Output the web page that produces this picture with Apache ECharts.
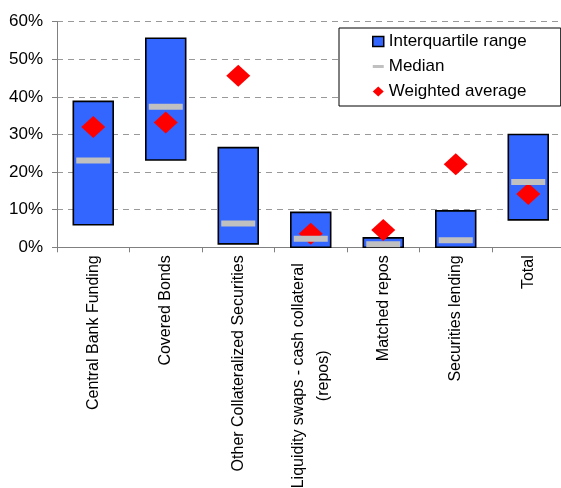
<!DOCTYPE html>
<html>
<head>
<meta charset="utf-8">
<script src="https://cdn.jsdelivr.net/npm/echarts@6/dist/echarts.min.js"></script>
<style>
  html, body { margin: 0; padding: 0; background: #fff; }
  #chart { width: 561px; height: 488px; }
</style>
</head>
<body>
<div id="chart"></div>
<script>
// Funding categories along the x axis
const categories = [
  'Central Bank Funding',
  'Covered Bonds',
  'Other Collateralized Securities',
  'Liquidity swaps - cash collateral\n(repos)',
  'Matched repos',
  'Securities lending',
  'Total'
];
// Lower and upper quartiles (%)
const lowerQuartile = [6.0, 23.2, 0.9, 0.0, 0.0, 0.0, 7.3];
const upperQuartile = [38.8, 55.6, 26.5, 9.3, 2.5, 9.7, 30.0];
// Median (%)
const medianValues = [23.1, 37.4, 6.3, 2.3, 0.8, 1.9, 17.4];
// Weighted average (%)
const weightedAverage = [32.0, 33.2, 45.6, 3.6, 4.6, 22.1, 14.2];
// Value axis ticks (%)
const yTicks = [0, 10, 20, 30, 40, 50, 60];

const FONT = "'Liberation Sans', Arial, sans-serif";
const BLUE = '#3366FF';
const GREY = '#C0C0C0';
const RED = '#FF0000';

const chart = echarts.init(document.getElementById('chart'), null, { renderer: 'canvas' });

const option = {
  animation: false,
  backgroundColor: '#fff',
  textStyle: { fontFamily: FONT },
  grid: {
    left: 57,
    top: 21.7,
    width: 507.5,
    height: 225.6,
    containLabel: false,
    outerBoundsMode: 'none'
  },
  legend: {
    orient: 'vertical',
    left: 339,
    top: 28,
    padding: [5, 34, 6, 33],
    itemGap: 8,
    itemWidth: 11,
    itemHeight: 10,
    borderColor: '#000',
    borderWidth: 1,
    backgroundColor: '#fff',
    selectedMode: false,
    textStyle: { fontSize: 17, color: '#000', fontFamily: FONT },
    data: [
      { name: 'Interquartile range', icon: 'rect', itemStyle: { color: BLUE, borderColor: '#000', borderWidth: 1.5, opacity: 1 } },
      { name: 'Median', icon: 'path://M0,0H11V3H0Z', itemStyle: { color: GREY, borderWidth: 0, opacity: 1 } },
      { name: 'Weighted average', icon: 'diamond', itemStyle: { color: RED, borderWidth: 0, opacity: 1 } }
    ]
  },
  xAxis: {
    type: 'category',
    data: categories,
    boundaryGap: true,
    axisLine: { show: true, lineStyle: { color: '#808080', width: 1 } },
    axisTick: { show: true, length: 5, inside: false, lineStyle: { color: '#808080' } },
    splitLine: { show: false },
    axisLabel: {
      interval: 0,
      rotate: 90,
      margin: 8,
      color: '#000',
      fontSize: 16,
      fontFamily: FONT,
      formatter: function (value) {
        const lines = value.split('\n');
        // wrapped labels sit a little further from the axis, lines centred
        const tag = lines.length > 1 ? 'w' : 'c';
        return lines.map(function (line) { return '{' + tag + '|' + line + '}'; }).join('\n');
      },
      rich: {
        c: { align: 'center', fontSize: 16, lineHeight: 25, color: '#000', fontFamily: FONT },
        w: { align: 'center', fontSize: 16, lineHeight: 25, color: '#000', fontFamily: FONT, padding: [0, 8, 0, 0] }
      }
    }
  },
  yAxis: {
    type: 'value',
    min: yTicks[0],
    max: yTicks[yTicks.length - 1],
    interval: yTicks[1] - yTicks[0],
    axisLine: { show: true, lineStyle: { color: '#808080', width: 1 } },
    axisTick: { show: true, length: 5, inside: false, lineStyle: { color: '#808080' } },
    axisLabel: { formatter: '{value}%', fontSize: 17, color: '#000', margin: 14, fontFamily: FONT },
    splitLine: { show: true, lineStyle: { color: '#999', width: 1, type: [6, 5] } }
  },
  series: [
    {
      name: 'Interquartile range',
      type: 'custom',
      z: 2,
      itemStyle: { color: BLUE, borderColor: '#000' },
      encode: { x: 0, y: [1, 2] },
      data: categories.map(function (c, i) { return [i, lowerQuartile[i], upperQuartile[i]]; }),
      renderItem: function (params, api) {
        const i = api.value(0);
        const lo = api.coord([i, api.value(1)]);
        const hi = api.coord([i, api.value(2)]);
        const w = api.size([1, 0])[0] * 0.55;
        return {
          type: 'rect',
          shape: { x: lo[0] - w / 2, y: hi[1], width: w, height: lo[1] - hi[1] },
          style: { fill: BLUE, stroke: '#000', lineWidth: 1.6 }
        };
      }
    },
    {
      name: 'Weighted average',
      type: 'scatter',
      z: 3,
      symbol: 'diamond',
      symbolSize: [24, 22],
      itemStyle: { color: RED, opacity: 1 },
      emphasis: { disabled: true },
      data: weightedAverage
    },
    {
      name: 'Median',
      type: 'scatter',
      z: 4,
      symbol: 'rect',
      symbolSize: [34, 6],
      itemStyle: { color: GREY, opacity: 1 },
      emphasis: { disabled: true },
      data: medianValues
    }
  ]
};

chart.setOption(option);
</script>
</body>
</html>
